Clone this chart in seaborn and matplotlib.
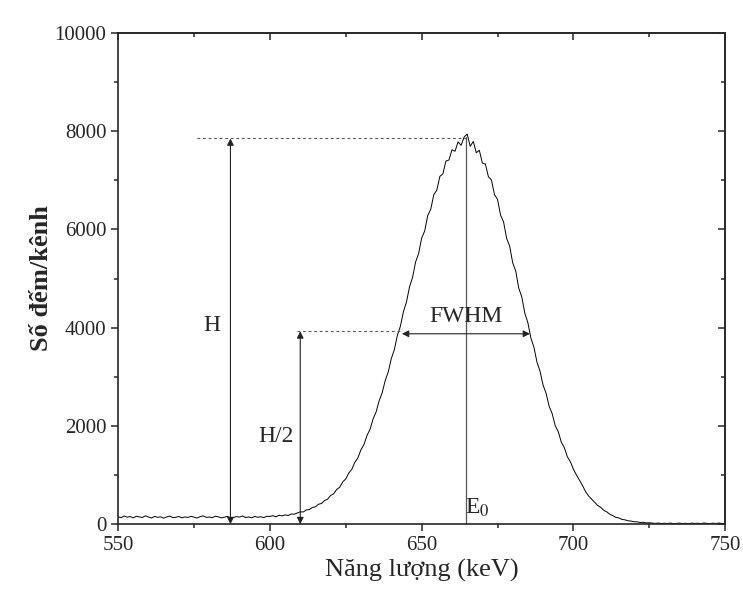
import numpy as np
import pandas as pd
import matplotlib
matplotlib.use("Agg")
import matplotlib.pyplot as plt
from matplotlib.ticker import MultipleLocator
import seaborn as sns

# Năng lượng (keV), bước 1 keV
energy = np.arange(550, 751)

counts = [
    150, 132, 168, 141, 155, 128, 162, 147, 136, 171,
    144, 126, 158, 139, 150, 122, 147, 165, 133, 141,
    156, 129, 148, 137, 160, 143, 125, 152, 170, 138,
    146, 131, 163, 149, 127, 142, 158, 121, 139, 153,
    144, 166, 135, 148, 129, 157, 140, 151, 134, 160,
    158, 172, 150, 181, 168, 190, 175, 208, 203, 226,
    251, 248, 290, 297, 341, 352, 405, 421, 480, 508,
    583, 618, 705, 752, 861, 921, 1040, 1118, 1259, 1350,
    1515, 1620, 1806, 1932, 2142, 2285, 2512, 2676, 2925, 3098,
    3370, 3551, 3842, 4030, 4325, 4522, 4830, 5020, 5335, 5508,
    5822, 5968, 6281, 6410, 6705, 6800, 7078, 7130, 7390, 7412,
    7620, 7590, 7780, 7710, 7880, 7940, 7690, 7790, 7560, 7610,
    7350, 7330, 7070, 7005, 6705, 6610, 6290, 6150, 5815, 5660,
    5320, 5150, 4800, 4625, 4290, 4100, 3785, 3600, 3295, 3115,
    2830, 2665, 2400, 2250, 2005, 1885, 1670, 1560, 1372, 1270,
    1118, 1002, 895, 788, 662, 575, 508, 446, 380, 342,
    282, 250, 203, 172, 138, 126, 96, 88, 68, 64,
    49, 47, 35, 39, 25, 29, 22, 15, 24, 12,
    19, 14, 23, 10, 17, 21, 13, 18, 9, 22,
    15, 19, 11, 24, 16, 13, 20, 14, 23, 12,
    18,
]

# Các giá trị chú thích
E0 = 664.5
H = 7850
fwhm_left = 643.5
fwhm_right = 685.7
x_arrow_H = 587
x_arrow_H2 = 610
x_dash_H_start = 576

df = pd.DataFrame({"E": energy, "N": counts})

sns.set_style("ticks")
plt.rcParams["font.family"] = ["Liberation Serif", "DejaVu Serif"]
plt.rcParams["mathtext.fontset"] = "stix"

fig, ax = plt.subplots(figsize=(7.43, 5.97), dpi=100)
fig.subplots_adjust(left=0.159, right=0.976, bottom=0.122, top=0.945)

sns.lineplot(data=df, x="E", y="N", ax=ax, color="black", linewidth=0.7)

grey = "#555555"
# vạch E0
ax.plot([E0, E0], [0, H + 40], color=grey, lw=0.9)
# đường nét đứt
ax.plot([x_dash_H_start, E0], [H, H], color=grey, lw=0.8, ls=(0, (2.5, 2.5)))
ax.plot([x_arrow_H2 - 1, fwhm_left], [H / 2, H / 2], color=grey, lw=0.8, ls=(0, (2.5, 2.5)))

arrow = dict(arrowstyle="<|-|>", color="#222222", lw=0.8, mutation_scale=10, shrinkA=0, shrinkB=0)
ax.annotate("", xy=(x_arrow_H, H), xytext=(x_arrow_H, 0), arrowprops=arrow)
ax.annotate("", xy=(x_arrow_H2, H / 2), xytext=(x_arrow_H2, 0), arrowprops=arrow)
ax.annotate("", xy=(fwhm_left, H / 2 - 50), xytext=(fwhm_right, H / 2 - 50), arrowprops=arrow)

ax.text(581, 4050, "H", fontsize=17, ha="center", va="center")
ax.text(602, 1780, "H/2", fontsize=17, ha="center", va="center")
ax.text(E0, 4230, "FWHM", fontsize=17, ha="center", va="center")
ax.text(668.5, 330, r"E$_0$", fontsize=17, ha="center", va="center")

ax.set_xlim(550, 750)
ax.set_ylim(0, 10000)
ax.xaxis.set_major_locator(MultipleLocator(50))
ax.xaxis.set_minor_locator(MultipleLocator(25))
ax.yaxis.set_major_locator(MultipleLocator(2000))
ax.yaxis.set_minor_locator(MultipleLocator(1000))
ax.tick_params(which="major", direction="out", length=5, width=1.1, labelsize=15)
ax.tick_params(which="minor", direction="out", length=3, width=1.1)

for s in ax.spines.values():
    s.set_linewidth(1.2)
    s.set_visible(True)

top = ax.secondary_xaxis("top")
top.xaxis.set_major_locator(MultipleLocator(50))
top.xaxis.set_minor_locator(MultipleLocator(25))
top.tick_params(which="major", direction="in", length=5, width=1.1, labeltop=False)
top.tick_params(which="minor", direction="in", length=3, width=1.1)
right = ax.secondary_yaxis("right")
right.yaxis.set_major_locator(MultipleLocator(2000))
right.yaxis.set_minor_locator(MultipleLocator(1000))
right.tick_params(which="major", direction="in", length=5, width=1.1, labelright=False)
right.tick_params(which="minor", direction="in", length=3, width=1.1)
for sec in (top, right):
    for s in sec.spines.values():
        s.set_linewidth(1.2)

ax.set_xlabel("Năng lượng (keV)", fontsize=19, labelpad=3)
ax.set_ylabel("Số đếm/kênh", fontsize=19, fontweight="bold", labelpad=1)

fig.savefig("out.png", dpi=100)
